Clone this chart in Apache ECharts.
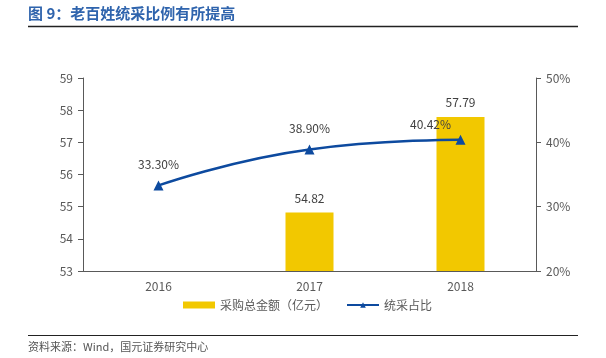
<!DOCTYPE html>
<html><head><meta charset="utf-8">
<script src="https://cdn.jsdelivr.net/npm/echarts@6/dist/echarts.min.js"></script>
<style>html,body{margin:0;padding:0;background:#fff}#c{width:606px;height:358px}</style>
</head><body><div id="c"></div>
<script>
var categories = ['2016', '2017', '2018'];
var purchaseTotal = [null, 54.82, 57.79];
var unifiedShare = [33.30, 38.90, 40.42];
var leftTicks = [53, 59, 1];
var rightTicks = [20, 50, 10];

var chart = echarts.init(document.getElementById('c'), null, {renderer: 'canvas'});
var font = '"Noto Sans CJK SC", "Noto Sans", sans-serif';
var shareData = unifiedShare.map(function (v, i) {
  if (i === unifiedShare.length - 1) {
    return {value: v, label: {offset: [-30, 6]}};
  }
  return v;
});
chart.setOption({
  animation: false,
  textStyle: {fontFamily: font},
  graphic: [
    {type: 'text', left: 28, top: 6, style: {text: '图 9：老百姓统采比例有所提高', font: 'bold 15px ' + font, fill: '#2F64AD'}},
    {type: 'line', shape: {x1: 28, y1: 26.5, x2: 578, y2: 26.5}, style: {stroke: '#222', lineWidth: 1.5}},
    {type: 'line', shape: {x1: 28, y1: 335.5, x2: 578, y2: 335.5}, style: {stroke: '#222', lineWidth: 1.2}},
    {type: 'text', left: 28, top: 341, style: {text: '资料来源：Wind，国元证券研究中心', font: '11px ' + font, fill: '#555'}}
  ],
  grid: {left: 83, right: 70, top: 78, bottom: 87},
  legend: {
    top: 294, left: 178,
    itemWidth: 32, itemHeight: 7, itemGap: 18,
    textStyle: {color: '#595959', fontSize: 12},
    data: [
      {name: '采购总金额（亿元）', icon: 'rect'},
      {name: '统采占比'}
    ]
  },
  xAxis: {
    type: 'category', data: categories,
    axisLine: {lineStyle: {color: '#595959'}},
    axisTick: {show: false},
    axisLabel: {color: '#595959', fontSize: 12, margin: 9}
  },
  yAxis: [
    {type: 'value', min: leftTicks[0], max: leftTicks[1], interval: leftTicks[2],
     axisLine: {show: true, lineStyle: {color: '#595959'}},
     axisTick: {show: true, length: 5},
     splitLine: {show: false},
     axisLabel: {color: '#595959', fontSize: 12, margin: 10}},
    {type: 'value', min: rightTicks[0], max: rightTicks[1], interval: rightTicks[2],
     axisLine: {show: true, lineStyle: {color: '#595959'}},
     axisTick: {show: true, length: 5},
     splitLine: {show: false},
     axisLabel: {color: '#595959', fontSize: 12, margin: 10, formatter: '{value}%'}}
  ],
  series: [
    {name: '采购总金额（亿元）', type: 'bar', data: purchaseTotal, barWidth: 48,
     itemStyle: {color: '#F2C800'},
     label: {show: true, position: 'top', color: '#404040', fontSize: 12, distance: 8}},
    {name: '统采占比', type: 'line', yAxisIndex: 1, data: shareData, smooth: true,
     symbol: 'triangle', symbolSize: 10,
     lineStyle: {color: '#0D4A9F', width: 2.5},
     itemStyle: {color: '#0D4A9F'},
     label: {show: true, position: 'top', distance: 10, color: '#404040', fontSize: 12,
       formatter: function(p){ return p.value.toFixed(2) + '%'; }},
     z: 3}
  ]
});
</script></body></html>
